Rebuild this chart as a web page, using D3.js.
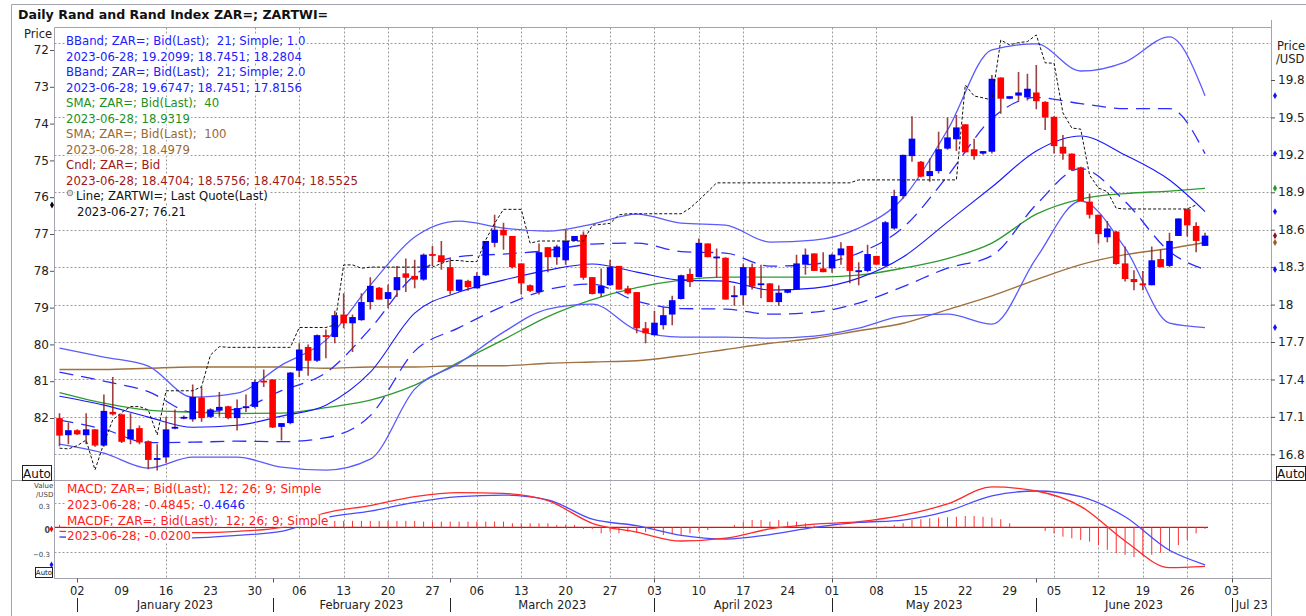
<!DOCTYPE html>
<html>
<head>
<meta charset="utf-8">
<script src="https://cdn.jsdelivr.net/npm/d3@7"></script>
<style>
  body { margin:0; background:#fff; }
  svg { display:block; font-family:"DejaVu Sans", sans-serif; }
  text { white-space: pre; }
</style>
</head>
<body>
<svg id="chart" width="1306" height="616"></svg>
<script>
// every weekday from 29 Dec 2022 is a trading day; the axis runs on to 3 Jul 2023
var firstDay = new Date(2022, 11, 29);
var axisEnd = new Date(2023, 6, 4);

// ZAR= daily candles (price per USD)
var openP = [17.09,16.953,16.993,16.953,17.0,16.87,17.14,17.12,16.92,17.01,
  16.905,16.755,16.775,17.01,17.09,17.08,17.255,17.1,17.15,17.185,
  17.09,17.17,17.18,17.39,17.4,17.02,17.05,17.47,17.66,17.55,
  17.755,17.74,17.92,17.85,17.875,18.02,18.135,18.045,18.115,18.25,
  18.23,18.2,18.405,18.395,18.3,18.11,18.19,18.13,18.235,18.495,
  18.6,18.55,18.33,18.155,18.1,18.46,18.38,18.355,18.51,18.56,
  18.22,18.09,18.155,18.31,18.13,18.1,17.81,17.755,17.835,17.92,
  18.045,18.245,18.22,18.49,18.375,18.375,18.06,18.075,18.3,18.16,
  18.17,18.02,18.095,18.12,18.32,18.41,18.29,18.29,18.395,18.47,
  18.26,18.27,18.39,18.31,18.61,18.87,19.19,19.145,19.03,19.07,
  19.25,19.325,19.445,19.245,19.21,19.225,19.82,19.65,19.675,19.66,
  19.7,19.625,19.505,19.265,19.21,19.1,18.825,18.72,18.54,18.585,
  18.33,18.205,18.17,18.155,18.365,18.31,18.55,18.765,18.63,18.4704];
var highP = [17.13,17.052,17.0,17.13,17.0,17.28,17.42,17.125,17.13,17.03,
  16.91,16.88,17.1,17.16,17.11,17.36,17.34,17.17,17.3,17.19,
  17.24,17.28,17.4,17.48,17.4,17.05,17.46,17.69,17.68,17.76,
  17.8,17.95,18.09,17.92,18.09,18.22,18.14,18.16,18.31,18.37,
  18.36,18.41,18.47,18.51,18.37,18.2,18.2,18.26,18.51,18.72,
  18.655,18.55,18.33,18.16,18.49,18.46,18.48,18.6,18.55,18.585,
  18.22,18.29,18.36,18.31,18.15,18.1,17.86,17.95,17.98,18.07,
  18.24,18.29,18.53,18.49,18.45,18.38,18.15,18.33,18.33,18.32,
  18.17,18.155,18.12,18.4,18.45,18.41,18.42,18.41,18.5,18.47,
  18.34,18.48,18.39,18.67,18.92,19.2,19.51,19.15,19.17,19.385,
  19.5,19.52,19.445,19.33,19.23,19.84,19.82,19.67,19.865,19.85,
  19.92,19.63,19.51,19.36,19.21,19.105,18.89,18.72,18.67,18.59,
  18.465,18.275,18.27,18.465,18.44,18.575,18.69,18.77,18.66,18.5756];
var lowP = [16.865,16.88,16.955,16.88,16.86,16.86,17.11,16.89,16.88,16.88,
  16.68,16.67,16.73,17.0,17.08,17.06,17.06,17.09,17.1,17.08,
  16.99,17.14,17.17,17.34,17.01,16.91,17.04,17.42,17.43,17.54,
  17.57,17.69,17.81,17.62,17.87,17.96,18.04,17.97,18.06,18.1,
  18.13,18.19,18.31,18.28,18.08,18.1,18.11,18.13,18.23,18.46,
  18.44,18.29,18.08,18.1,18.08,18.26,18.32,18.32,18.51,18.2,
  18.08,18.06,18.15,18.12,18.08,17.77,17.69,17.75,17.8,17.835,
  18.04,18.14,18.22,18.38,18.22,18.04,17.99,17.995,18.12,18.05,
  18.02,17.99,18.09,18.12,18.24,18.27,18.26,18.255,18.32,18.17,
  18.155,18.26,18.32,18.3,18.6,18.85,19.145,19.02,18.985,19.05,
  19.24,19.23,19.22,19.16,19.2,19.21,19.53,19.645,19.635,19.635,
  19.565,19.4,19.21,19.16,19.07,18.83,18.69,18.49,18.5,18.32,
  18.185,18.115,18.115,18.155,18.3,18.3,18.55,18.545,18.42,18.4704];
var closeP = [16.95,16.993,16.96,17.0,16.87,17.148,17.12,16.9,17.0,16.895,
  16.755,16.77,17.0,17.02,17.10,17.26,17.09,17.16,17.18,17.09,
  17.17,17.185,17.38,17.38,17.015,17.05,17.455,17.64,17.55,17.755,
  17.745,17.915,17.85,17.9,18.02,18.15,18.04,18.1,18.22,18.215,
  18.2,18.4,18.395,18.34,18.11,18.2,18.14,18.23,18.51,18.6,
  18.555,18.3,18.17,18.11,18.42,18.38,18.465,18.51,18.55,18.215,
  18.085,18.15,18.3,18.12,18.09,17.81,17.77,17.855,17.915,18.035,
  18.235,18.18,18.495,18.38,18.385,18.04,18.075,18.3,18.145,18.17,
  18.02,18.095,18.12,18.33,18.4,18.27,18.26,18.4,18.45,18.27,
  18.275,18.405,18.32,18.66,18.87,19.2,19.33,19.025,19.07,19.245,
  19.34,19.42,19.22,19.19,19.23,19.81,19.65,19.67,19.70,19.73,
  19.63,19.5,19.27,19.21,19.08,18.83,18.72,18.565,18.61,18.325,
  18.205,18.18,18.155,18.355,18.3,18.51,18.69,18.635,18.51,18.5525];

// ZARTWI= last quote (left axis), up to 27 Jun
var zartwi = [82.82,82.84,82.75,82.6,83.41,82.68,82.05,81.85,81.69,81.69,
  81.78,82.46,81.26,81.26,81.26,81.26,81.15,80.29,80.06,80.08,
  80.08,80.08,80.08,80.08,80.08,80.08,80.08,79.54,79.54,79.54,
  79.54,79.47,77.84,77.84,77.93,77.9,77.9,77.9,77.9,77.9,
  77.9,77.9,77.9,77.8,77.72,77.72,77.75,77.75,77.16,76.71,
  76.33,76.33,76.33,77.25,77.19,77.19,77.19,77.19,77.19,77.19,
  76.76,76.74,76.71,76.48,76.45,76.45,76.45,76.45,76.45,76.45,
  76.45,76.3,76.08,75.85,75.61,75.61,75.61,75.61,75.61,75.61,
  75.61,75.61,75.61,75.61,75.61,75.61,75.61,75.61,75.61,75.61,
  75.53,75.53,75.53,75.53,75.53,75.53,75.53,75.53,75.53,75.53,
  75.53,75.53,72.95,73.25,73.3,73.36,71.73,71.86,71.8,71.77,
  71.59,72.35,72.36,73.71,74.12,74.15,75.4,75.75,75.85,76.3,
  76.32,76.32,76.32,76.32,76.32,76.32,76.32,76.32,76.21];

// indicator lines, read at these trading-day positions
var sampleIdx = [0,5,10,15,20,25,30,35,40,45,50,55,60,65,70,75,80,85,90,95,100,105,110,115,120,125,129];
var bb2Upper = [17.651,17.579,17.507,17.258,17.290,17.515,17.715,18.156,18.541,18.669,18.613,18.589,18.645,18.725,18.653,18.637,18.501,18.517,18.613,18.854,19.399,20.041,20.089,19.872,19.944,20.145,19.6747];
var bb1Upper = [17.458,17.386,17.302,17.138,17.162,17.310,17.454,17.807,18.236,18.385,18.405,18.433,18.485,18.493,18.425,18.413,18.308,18.325,18.413,18.617,19.030,19.491,19.660,19.611,19.571,19.571,19.2099];
var bbMid = [17.266,17.194,17.098,17.017,17.033,17.106,17.194,17.458,17.932,18.100,18.196,18.276,18.325,18.260,18.196,18.188,18.116,18.132,18.212,18.381,18.661,18.942,19.231,19.351,19.199,18.998,18.7451];
var bb1Lower = [17.074,17.001,16.893,16.897,16.905,16.901,16.933,17.110,17.627,17.815,17.988,18.120,18.164,18.028,17.968,17.964,17.923,17.939,18.012,18.144,18.292,18.392,18.802,19.090,18.826,18.425,18.2804];
var bb2Lower = [16.881,16.809,16.689,16.777,16.777,16.697,16.673,16.761,17.322,17.531,17.779,17.964,18.004,17.795,17.739,17.739,17.731,17.747,17.811,17.908,17.923,17.843,18.373,18.830,18.453,17.851,17.8156];
var sma40 = [17.294,17.210,17.154,17.138,17.127,17.130,17.174,17.234,17.354,17.539,17.719,17.904,18.040,18.136,18.196,18.220,18.220,18.220,18.236,18.292,18.369,18.493,18.725,18.846,18.890,18.910,18.9319];
var sma100 = [17.48,17.48,17.49,17.50,17.50,17.50,17.49,17.50,17.50,17.51,17.51,17.53,17.54,17.55,17.59,17.64,17.69,17.73,17.79,17.85,17.96,18.07,18.20,18.32,18.40,18.45,18.4979];
var macdLine = [-0.05,-0.06,-0.07,-0.067,-0.05,0.0,0.18,0.27,0.38,0.43,0.42,0.33,0.05,-0.06,-0.17,-0.135,-0.02,0.04,0.07,0.15,0.29,0.50,0.45,0.26,-0.17,-0.50,-0.4845];
var signalLine = [-0.12,-0.13,-0.13,-0.13,-0.10,-0.05,0.12,0.20,0.31,0.38,0.40,0.34,0.10,0.02,-0.10,-0.145,-0.09,0.0,0.06,0.09,0.20,0.39,0.45,0.38,0.13,-0.285,-0.4646];

// MACDF histogram, one bar per trading day
var macdHist = [0.03,0.03,0.03,0.03,0.03,0.03,0.03,0.03,0.03,0.03,0.03,
  0.05,0.05,0.05,0.05,0.05,0.05,0.05,0.05,0.05,0.05,
  0.06,0.06,0.06,0.06,0.06,0.06,0.06,0.06,0.06,
  0.08,0.08,0.08,0.08,0.08,0.08,0.08,0.08,0.08,0.08,0.08,
  0.07,0.07,0.07,0.07,0.07,0.07,0.07,0.07,0.07,0.07,
  0.05,0.05,0.05,0.05,0.05,0.03,0.03,0.03,-0.02,-0.02,
  -0.075,-0.054,-0.075,-0.054,-0.065,-0.06,-0.033,-0.095,-0.085,-0.095,-0.075,-0.054,-0.033,
  0,0,
  0.03,0.07,0.09,0.09,0.07,0.09,0.07,0.07,0.05,
  0.02,0.01,0,0.01,0,0,0,0,
  0.01,0.03,0.05,0.09,0.1,0.11,0.12,0.125,0.13,0.14,0.14,0.13,0.12,0.1,0.05,
  0,0,0,
  -0.046,-0.075,-0.116,-0.136,-0.157,-0.178,-0.22,-0.28,-0.32,-0.34,-0.37,-0.355,-0.34,-0.315,-0.3,-0.22,-0.157,-0.075,-0.02];

var priceTicks = [19.8,19.5,19.2,18.9,18.6,18.3,18,17.7,17.4,17.1,16.8];
var priceGrid = [20.1,19.5,19.2,18.9,18.6,18.3,18,17.7,17.4,17.1,16.8];
var indexTicks = [72,73,74,75,76,77,78,79,80,81,82];
// Mondays that carry no vertical grid line in the picture
var noGridWeeks = ["2023-01-02","2023-01-09","2023-01-23","2023-04-24","2023-05-15","2023-05-22","2023-05-29"];

var svg = d3.select("#chart");
var plotL = 54.5, plotR = 1271.5, mainT = 27.5, mainB = 480.5, macdB = 578.5;
var frameCol = "#a4a4b0";
var isoDay = d3.timeFormat("%Y-%m-%d");

var dates = d3.timeDay.range(firstDay, axisEnd).filter(function(d){ return d.getDay() % 6 !== 0; });

var xScale = d3.scaleLinear().domain([0, 132]).range([59.5, 59.5 + 132 * 8.88]);
var yPrice = d3.scaleLinear().domain([16.8, 19.8]).range([454.3, 80]);
var yIndex = d3.scaleLinear().domain([72, 82]).range([50, 418]);
var yMacd = d3.scaleLinear().domain([-0.3, 0.3]).range([551.5, 503.1]);

svg.append("rect").attr("width", 1306).attr("height", 616).attr("fill", "#fff");

var defs = svg.append("defs");
defs.append("clipPath").attr("id", "clipMain").append("rect")
    .attr("x", plotL).attr("y", mainT).attr("width", plotR - plotL).attr("height", mainB - mainT);
defs.append("clipPath").attr("id", "clipMacd").append("rect")
    .attr("x", plotL).attr("y", mainB).attr("width", plotR - plotL).attr("height", macdB - mainB);

// weekly grid
var mondays = [];
dates.forEach(function(d, i){ if (d.getDay() === 1) mondays.push(i); });
var gridWeeks = mondays.filter(function(i){ return noGridWeeks.indexOf(isoDay(dates[i])) < 0; });

var grid = svg.append("g").attr("stroke", "#9a9a9a").attr("stroke-dasharray", "2,2").attr("stroke-width", 1);
grid.selectAll("line.v").data(gridWeeks).enter().append("line")
    .attr("x1", function(d){ return Math.round(xScale(d)) + 0.5; })
    .attr("x2", function(d){ return Math.round(xScale(d)) + 0.5; })
    .attr("y1", mainT).attr("y2", macdB);
grid.selectAll("line.h").data(priceGrid).enter().append("line")
    .attr("x1", plotL).attr("x2", plotR)
    .attr("y1", function(d){ return Math.round(yPrice(d)) + 0.5; })
    .attr("y2", function(d){ return Math.round(yPrice(d)) + 0.5; });
grid.selectAll("line.m").data([0.3, -0.3]).enter().append("line")
    .attr("x1", plotL).attr("x2", plotR)
    .attr("y1", function(d){ return Math.round(yMacd(d)) + 0.5; })
    .attr("y2", function(d){ return Math.round(yMacd(d)) + 0.5; });

// main panel
var main = svg.append("g").attr("clip-path", "url(#clipMain)");

function sampled(values) {
  return values.map(function(v, k){ return [sampleIdx[k], v]; });
}
var priceLine = d3.line()
    .x(function(d){ return xScale(d[0]); })
    .y(function(d){ return yPrice(d[1]); })
    .curve(d3.curveMonotoneX);

var overlays = [
  { v: sma100, c: "#a0703e", w: 1.4, dash: null },
  { v: sma40, c: "#2f9a2f", w: 1.3, dash: null },
  { v: bb2Upper, c: "#5a5aff", w: 1.3, dash: null },
  { v: bb2Lower, c: "#5a5aff", w: 1.3, dash: null },
  { v: bb1Upper, c: "#2b2bff", w: 1.3, dash: "14,8" },
  { v: bb1Lower, c: "#2b2bff", w: 1.3, dash: "14,8" },
  { v: bbMid, c: "#1818ff", w: 1.1, dash: null }
];
main.selectAll("path.ov").data(overlays).enter().append("path")
    .attr("fill", "none")
    .attr("stroke", function(d){ return d.c; })
    .attr("stroke-width", function(d){ return d.w; })
    .attr("stroke-dasharray", function(d){ return d.dash; })
    .attr("d", function(d){ return priceLine(sampled(d.v)); });

var candles = closeP.map(function(c, i){
  return { i: i, o: openP[i], h: highP[i], l: lowP[i], c: c };
});
var cg = main.selectAll("g.candle").data(candles).enter().append("g");
cg.append("line")
    .attr("x1", function(d){ return xScale(d.i); })
    .attr("x2", function(d){ return xScale(d.i); })
    .attr("y1", function(d){ return yPrice(d.h); })
    .attr("y2", function(d){ return yPrice(d.l); })
    .attr("stroke", "#8e2020").attr("stroke-width", 1.6).attr("stroke-opacity", 0.85);
cg.append("rect")
    .attr("x", function(d){ return xScale(d.i) - 3.3; })
    .attr("width", 6.6)
    .attr("y", function(d){ return yPrice(Math.max(d.o, d.c)); })
    .attr("height", function(d){ return Math.max(1.8, Math.abs(yPrice(d.o) - yPrice(d.c))); })
    .attr("fill", function(d){ return d.c >= d.o ? "#0000ff" : "#ff0000"; });

var idxLine = d3.line()
    .x(function(d, i){ return xScale(i); })
    .y(function(d){ return yIndex(d); });
main.append("path")
    .attr("fill", "none").attr("stroke", "#111").attr("stroke-width", 1)
    .attr("stroke-dasharray", "3,2")
    .attr("d", idxLine(zartwi));

// MACD panel
var macdG = svg.append("g").attr("clip-path", "url(#clipMacd)");
macdG.append("line")
    .attr("x1", plotL).attr("x2", xScale(129) + 3)
    .attr("y1", yMacd(0)).attr("y2", yMacd(0))
    .attr("stroke", "#ff0000").attr("stroke-width", 1.2);
macdG.selectAll("line.hist").data(macdHist.map(function(v, i){ return [i, v]; })
        .filter(function(d){ return d[1] !== 0; }))
    .enter().append("line")
    .attr("x1", function(d){ return xScale(d[0]); })
    .attr("x2", function(d){ return xScale(d[0]); })
    .attr("y1", yMacd(0))
    .attr("y2", function(d){ return yMacd(d[1]); })
    .attr("stroke", "#ff3030").attr("stroke-width", 1);
var macdPath = d3.line()
    .x(function(d){ return xScale(d[0]); })
    .y(function(d){ return yMacd(d[1]); })
    .curve(d3.curveMonotoneX);
macdG.append("path").attr("fill", "none").attr("stroke", "#4a4aff").attr("stroke-width", 1.3)
    .attr("d", macdPath(sampled(signalLine)));
macdG.append("path").attr("fill", "none").attr("stroke", "#ff2a2a").attr("stroke-width", 1.3)
    .attr("d", macdPath(sampled(macdLine)));

// legends with white boxes
function legendLine(x, y, parts, size) {
  var g = svg.append("g");
  var t = g.append("text").attr("x", x).attr("y", y).attr("dy", "0.35em")
      .style("font-size", size + "px");
  parts.forEach(function(p){ t.append("tspan").attr("fill", p[1]).text(p[0]); });
  var bb = t.node().getBBox();
  g.insert("rect", "text").attr("x", bb.x - 1).attr("y", bb.y + 1)
      .attr("width", bb.width + 2).attr("height", bb.height - 2).attr("fill", "#fff");
}
var blue = "#2020ff", green = "#1f8f1f", brown = "#9a6832", dred = "#a01818";
var mainLegend = [
  [66, [["BBand; ZAR=; Bid(Last);  21; Simple; 1.0", blue]]],
  [66, [["2023-06-28; 19.2099; 18.7451; 18.2804", blue]]],
  [66, [["BBand; ZAR=; Bid(Last);  21; Simple; 2.0", blue]]],
  [66, [["2023-06-28; 19.6747; 18.7451; 17.8156", blue]]],
  [66, [["SMA; ZAR=; Bid(Last);  40", green]]],
  [66, [["2023-06-28; 18.9319", green]]],
  [66, [["SMA; ZAR=; Bid(Last);  100", brown]]],
  [66, [["2023-06-28; 18.4979", brown]]],
  [66, [["Cndl; ZAR=; Bid", dred]]],
  [66, [["2023-06-28; 18.4704; 18.5756; 18.4704; 18.5525", dred]]],
  [76, [["Line; ZARTWI=; Last Quote(Last)", "#111"]]],
  [77, [["2023-06-27; 76.21", "#111"]]]
];
mainLegend.forEach(function(l, k){ legendLine(l[0], 41 + 15.5 * k, l[1], 11.7); });
svg.append("circle").attr("cx", 70).attr("cy", 193).attr("r", 2.8)
    .attr("fill", "#d8d8e0").attr("stroke", "#777").attr("stroke-width", 0.8);

var red = "#ff2020";
legendLine(67, 489, [["MACD; ZAR=; Bid(Last);  12; 26; 9; Simple", red]], 12);
legendLine(67, 505, [["2023-06-28; -0.4845; ", red], ["-0.4646", "#2020ff"]], 12);
legendLine(67, 520.5, [["MACDF; ZAR=; Bid(Last);  12; 26; 9; Simple", red]], 12);
legendLine(67, 536, [["2023-06-28; -0.0200", red]], 12);

// frames
var frame = svg.append("g").attr("stroke", frameCol).attr("fill", "none").attr("stroke-width", 1);
frame.append("line").attr("x1", 11.5).attr("x2", 1306).attr("y1", 4.5).attr("y2", 4.5);
frame.append("line").attr("x1", 11.5).attr("x2", 11.5).attr("y1", 4.5).attr("y2", 616);
frame.append("line").attr("x1", plotL).attr("x2", plotR).attr("y1", mainT).attr("y2", mainT);
frame.append("line").attr("x1", plotL).attr("x2", plotL).attr("y1", mainT).attr("y2", macdB);
frame.append("line").attr("x1", plotR).attr("x2", plotR).attr("y1", 20).attr("y2", 616);
frame.append("line").attr("x1", 11.5).attr("x2", 1306).attr("y1", mainB).attr("y2", mainB);
frame.append("line").attr("x1", plotL).attr("x2", plotR).attr("y1", macdB).attr("y2", macdB);

// title
svg.append("text").attr("x", 18).attr("y", 15).attr("dy", "0.35em")
    .style("font-size", "12.6px").style("font-weight", "bold").attr("fill", "#111")
    .text("Daily Rand and Rand Index ZAR=; ZARTWI=");

// left axis (ZARTWI)
svg.append("text").attr("x", 24).attr("y", 34).attr("dy", "0.35em")
    .style("font-size", "11.5px").attr("fill", "#222").text("Price");
var leftAx = svg.append("g");
leftAx.selectAll("text").data(indexTicks).enter().append("text")
    .attr("x", 49).attr("y", function(d){ return yIndex(d); }).attr("dy", "0.35em")
    .attr("text-anchor", "end").style("font-size", "12px").attr("fill", "#222")
    .text(function(d){ return d; });
leftAx.selectAll("line").data(indexTicks).enter().append("line")
    .attr("x1", 50).attr("x2", 54)
    .attr("y1", function(d){ return yIndex(d) + 0.5; }).attr("y2", function(d){ return yIndex(d) + 0.5; })
    .attr("stroke", "#555");
svg.append("path").attr("d", d3.symbol().type(d3.symbolDiamond).size(14)())
    .attr("transform", "translate(52," + yIndex(76.21) + ")").attr("fill", "#000");

// right axis (ZAR=)
svg.append("text").attr("x", 1277).attr("y", 46).attr("dy", "0.35em")
    .style("font-size", "11.5px").attr("fill", "#222").text("Price");
svg.append("text").attr("x", 1276).attr("y", 59).attr("dy", "0.35em")
    .style("font-size", "11.5px").attr("fill", "#222").text("/USD");
var rightAx = svg.append("g");
rightAx.selectAll("text").data(priceTicks).enter().append("text")
    .attr("x", 1278).attr("y", function(d){ return yPrice(d); }).attr("dy", "0.35em")
    .style("font-size", "12px").attr("fill", "#222")
    .text(function(d){ return d3.format("~g")(d); });
rightAx.selectAll("line").data(priceTicks).enter().append("line")
    .attr("x1", 1271).attr("x2", 1275)
    .attr("y1", function(d){ return yPrice(d) + 0.5; }).attr("y2", function(d){ return yPrice(d) + 0.5; })
    .attr("stroke", "#555");
var endMarks = [[19.6747, "#1010ff"], [19.2099, "#1010ff"], [18.9319, "#1f9a1f"], [18.7451, "#1010ff"],
                [18.5525, "#8b1010"], [18.4979, "#9a5a20"], [18.2804, "#1010ff"], [17.8156, "#1010ff"]];
rightAx.selectAll("path").data(endMarks).enter().append("path")
    .attr("d", d3.symbol().type(d3.symbolDiamond).size(14)())
    .attr("transform", function(d){ return "translate(1275," + yPrice(d[0]) + ")"; })
    .attr("fill", function(d){ return d[1]; });

// MACD left axis
var macdAx = svg.append("g").attr("fill", "#444").style("font-size", "7px");
macdAx.append("text").attr("x", 34).attr("y", 486).attr("dy", "0.35em").text("Value");
macdAx.append("text").attr("x", 36).attr("y", 495).attr("dy", "0.35em").text("/USD");
macdAx.selectAll("text.t").data([0.3, 0, -0.3]).enter().append("text")
    .attr("x", 50).attr("y", function(d){ return yMacd(d) + 3; }).attr("dy", "0.35em")
    .attr("text-anchor", "end")
    .style("font-weight", function(d){ return d === 0 ? "bold" : null; })
    .style("font-size", function(d){ return d === 0 ? "8px" : "7px"; })
    .text(function(d){ return d === 0 ? "0" : d3.format("~g")(d); });
svg.append("path").attr("d", d3.symbol().type(d3.symbolDiamond).size(12)())
    .attr("transform", "translate(51.5," + yMacd(-0.02) + ")").attr("fill", "#ff0000");
svg.append("path").attr("d", d3.symbol().type(d3.symbolDiamond).size(12)())
    .attr("transform", "translate(51.5," + yMacd(-0.4646) + ")").attr("fill", "#1010ff");

// Auto buttons
function autoBox(x, y, w, h, fs) {
  svg.append("rect").attr("x", x + 0.5).attr("y", y + 0.5).attr("width", w).attr("height", h)
      .attr("fill", "#fff").attr("stroke", "#222");
  svg.append("text").attr("x", x + w / 2 + 0.5).attr("y", y + h / 2 + 1).attr("dy", "0.35em")
      .attr("text-anchor", "middle").style("font-size", fs + "px").attr("fill", "#111").text("Auto");
}
autoBox(22, 465, 29, 15, 12);
autoBox(1276, 466, 29, 14, 12);
autoBox(35, 567, 17, 10, 7);

// date axis
var bottom = svg.append("g");
bottom.selectAll("text.day").data(mondays).enter().append("text")
    .attr("x", function(d){ return xScale(d); }).attr("y", 591).attr("dy", "0.35em")
    .attr("text-anchor", "middle").style("font-size", "11.5px").attr("fill", "#222")
    .text(function(d){ return d3.timeFormat("%d")(dates[d]); });

var monthStarts = [];
dates.forEach(function(d, i){
  if (i === 0 || d.getMonth() !== dates[i - 1].getMonth()) monthStarts.push(i);
});
monthStarts = monthStarts.filter(function(i){ return dates[i].getFullYear() === 2023; });
bottom.selectAll("line.sep").data(monthStarts).enter().append("line")
    .attr("x1", function(d){ return Math.round(xScale(d)) + 0.5; })
    .attr("x2", function(d){ return Math.round(xScale(d)) + 0.5; })
    .attr("y1", 598).attr("y2", 612).attr("stroke", "#222");
bottom.selectAll("line.mt").data(monthStarts).enter().append("line")
    .attr("x1", function(d){ return Math.round(xScale(d)) + 0.5; })
    .attr("x2", function(d){ return Math.round(xScale(d)) + 0.5; })
    .attr("y1", macdB).attr("y2", macdB + 4).attr("stroke", "#555");
bottom.selectAll("text.month").data(monthStarts).enter().append("text")
    .attr("x", function(d, k){
      var next = k + 1 < monthStarts.length ? xScale(monthStarts[k + 1]) : 1272;
      return k + 1 < monthStarts.length ? (xScale(d) + next) / 2 : xScale(d) + 4;
    })
    .attr("y", 605).attr("dy", "0.35em")
    .attr("text-anchor", function(d, k){ return k + 1 < monthStarts.length ? "middle" : "start"; })
    .style("font-size", "11.5px").attr("fill", "#222")
    .text(function(d, k){
      return k + 1 < monthStarts.length ? d3.timeFormat("%B %Y")(dates[d]) : d3.timeFormat("%b %y")(dates[d]);
    });
</script>
</body>
</html>
